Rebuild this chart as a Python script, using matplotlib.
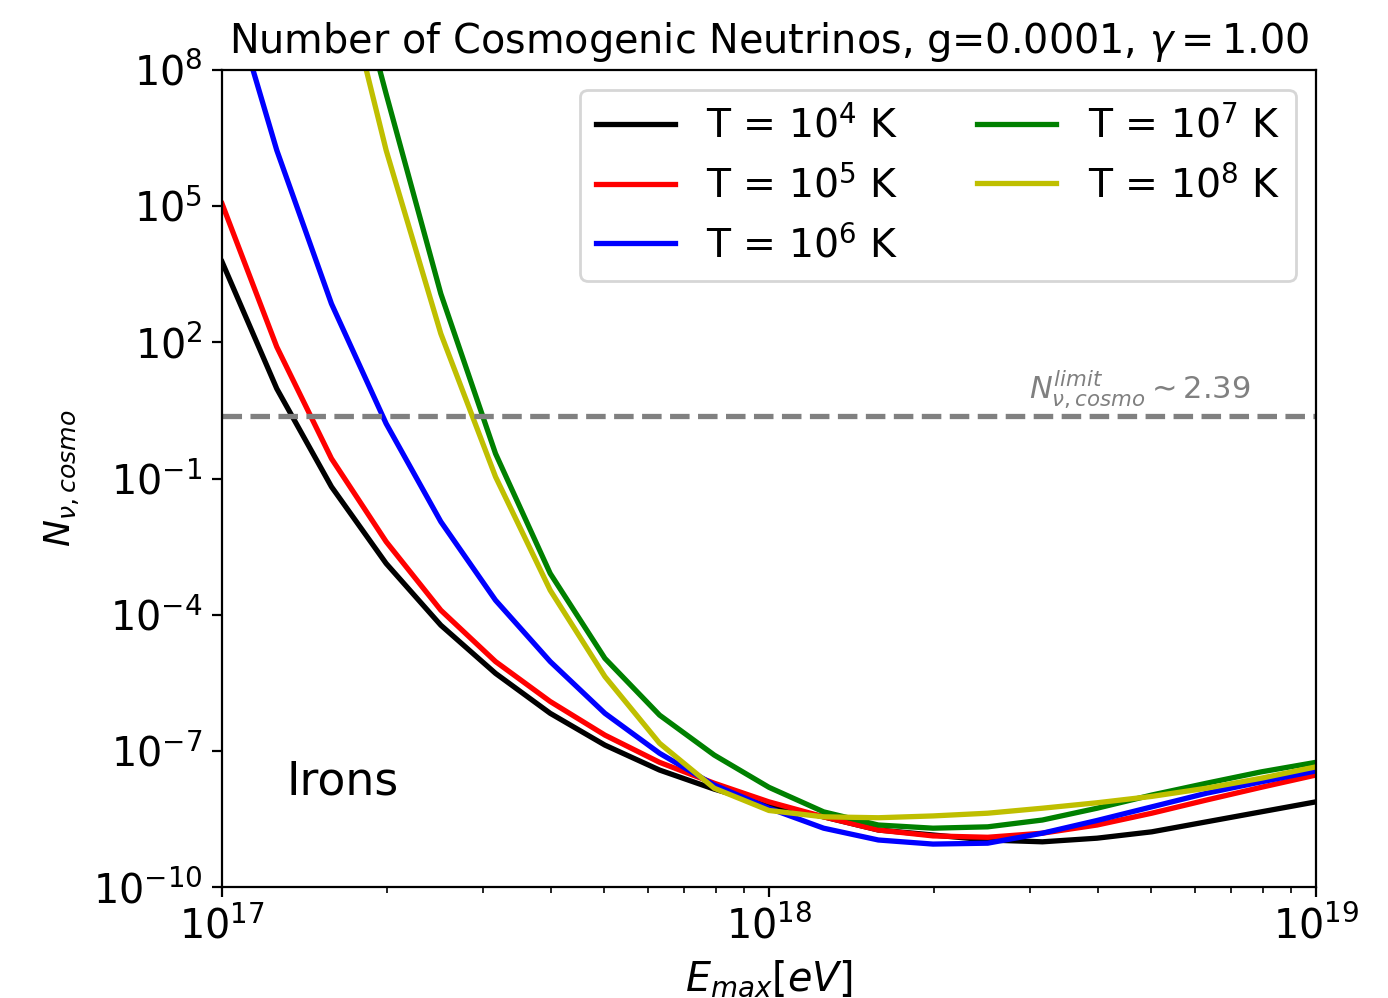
import numpy as np
import matplotlib
matplotlib.use('Agg')
from matplotlib import pyplot as plt

# log10 of E_max [eV]
log_emax = [17.0, 17.1, 17.2, 17.3, 17.4, 17.5, 17.6, 17.7, 17.8, 17.9, 18.0,
            18.1, 18.2, 18.3, 18.4, 18.5, 18.6, 18.7, 18.8, 18.9, 19.0]

# log10 of N_nu,cosmo (nan = above the plot)
n_T4 = [3.77, 0.98, -1.18, -2.87, -4.23, -5.29, -6.17, -6.87, -7.42, -7.84, -8.19,
        -8.45, -8.74, -8.85, -8.96, -9.00, -8.92, -8.78, -8.56, -8.34, -8.12]
n_T5 = [5.05, 1.90, -0.56, -2.39, -3.90, -5.03, -5.91, -6.65, -7.25, -7.71, -8.12,
        -8.45, -8.74, -8.87, -8.90, -8.81, -8.63, -8.37, -8.08, -7.80, -7.53]
n_T6 = [10.3, 6.23, 2.85, 0.21, -1.95, -3.68, -5.03, -6.17, -7.05, -7.75, -8.26,
        -8.70, -8.96, -9.05, -9.03, -8.81, -8.53, -8.23, -7.93, -7.68, -7.44]
n_T7 = [np.nan, np.nan, 12.0, 7.47, 3.07, -0.45, -3.09, -4.96, -6.21, -7.09, -7.80,
        -8.34, -8.63, -8.70, -8.67, -8.52, -8.26, -7.97, -7.71, -7.46, -7.25]
n_T8 = [np.nan, np.nan, 11.1, 6.23, 2.19, -0.96, -3.46, -5.36, -6.83, -7.82, -8.31,
        -8.45, -8.47, -8.43, -8.37, -8.26, -8.14, -8.00, -7.82, -7.60, -7.35]

labels = ['T = $10^4$ K', 'T = $10^5$ K', 'T = $10^6$ K', 'T = $10^7$ K', 'T = $10^8$ K']
colors = ['k', 'r', 'b', 'g', 'y']
n_limit = 2.39

E = 10**np.array(log_emax)

fig = plt.figure(figsize=(6.94, 4.99), dpi=200)
ax = fig.add_axes([0.16, 0.111, 0.788, 0.819])

for n, lab, c in zip([n_T4, n_T5, n_T6, n_T7, n_T8], labels, colors):
    ax.plot(E, 10**np.array(n), color=c, lw=1.9, label=lab)

ax.axhline(n_limit, color='gray', ls='--', lw=1.9)
ax.text(0.738, 0.584, r'$N^{limit}_{\nu,cosmo} \sim 2.39$', color='gray',
        fontsize=11, transform=ax.transAxes, va='bottom')
ax.text(0.059, 0.113, 'Irons', fontsize=16.5, transform=ax.transAxes, va='baseline')

ax.set_xscale('log')
ax.set_yscale('log')
ax.set_xlim(1e17, 1e19)
ax.set_ylim(1e-10, 1e8)
ax.set_yticks([1e-10, 1e-7, 1e-4, 1e-1, 1e2, 1e5, 1e8])
ax.yaxis.set_minor_locator(matplotlib.ticker.NullLocator())
ax.tick_params(labelsize=14.3)

ax.set_title(r'Number of Cosmogenic Neutrinos, g=0.0001, $\gamma=1.00$', fontsize=14.3)
ax.set_xlabel(r'$E_{max} [eV]$', fontsize=14.3)
ax.set_ylabel(r'$N_{\nu,cosmo}$', fontsize=13)
ax.legend(loc='upper right', ncol=2, fontsize=14.2)

fig.savefig('out.png', dpi=200)
